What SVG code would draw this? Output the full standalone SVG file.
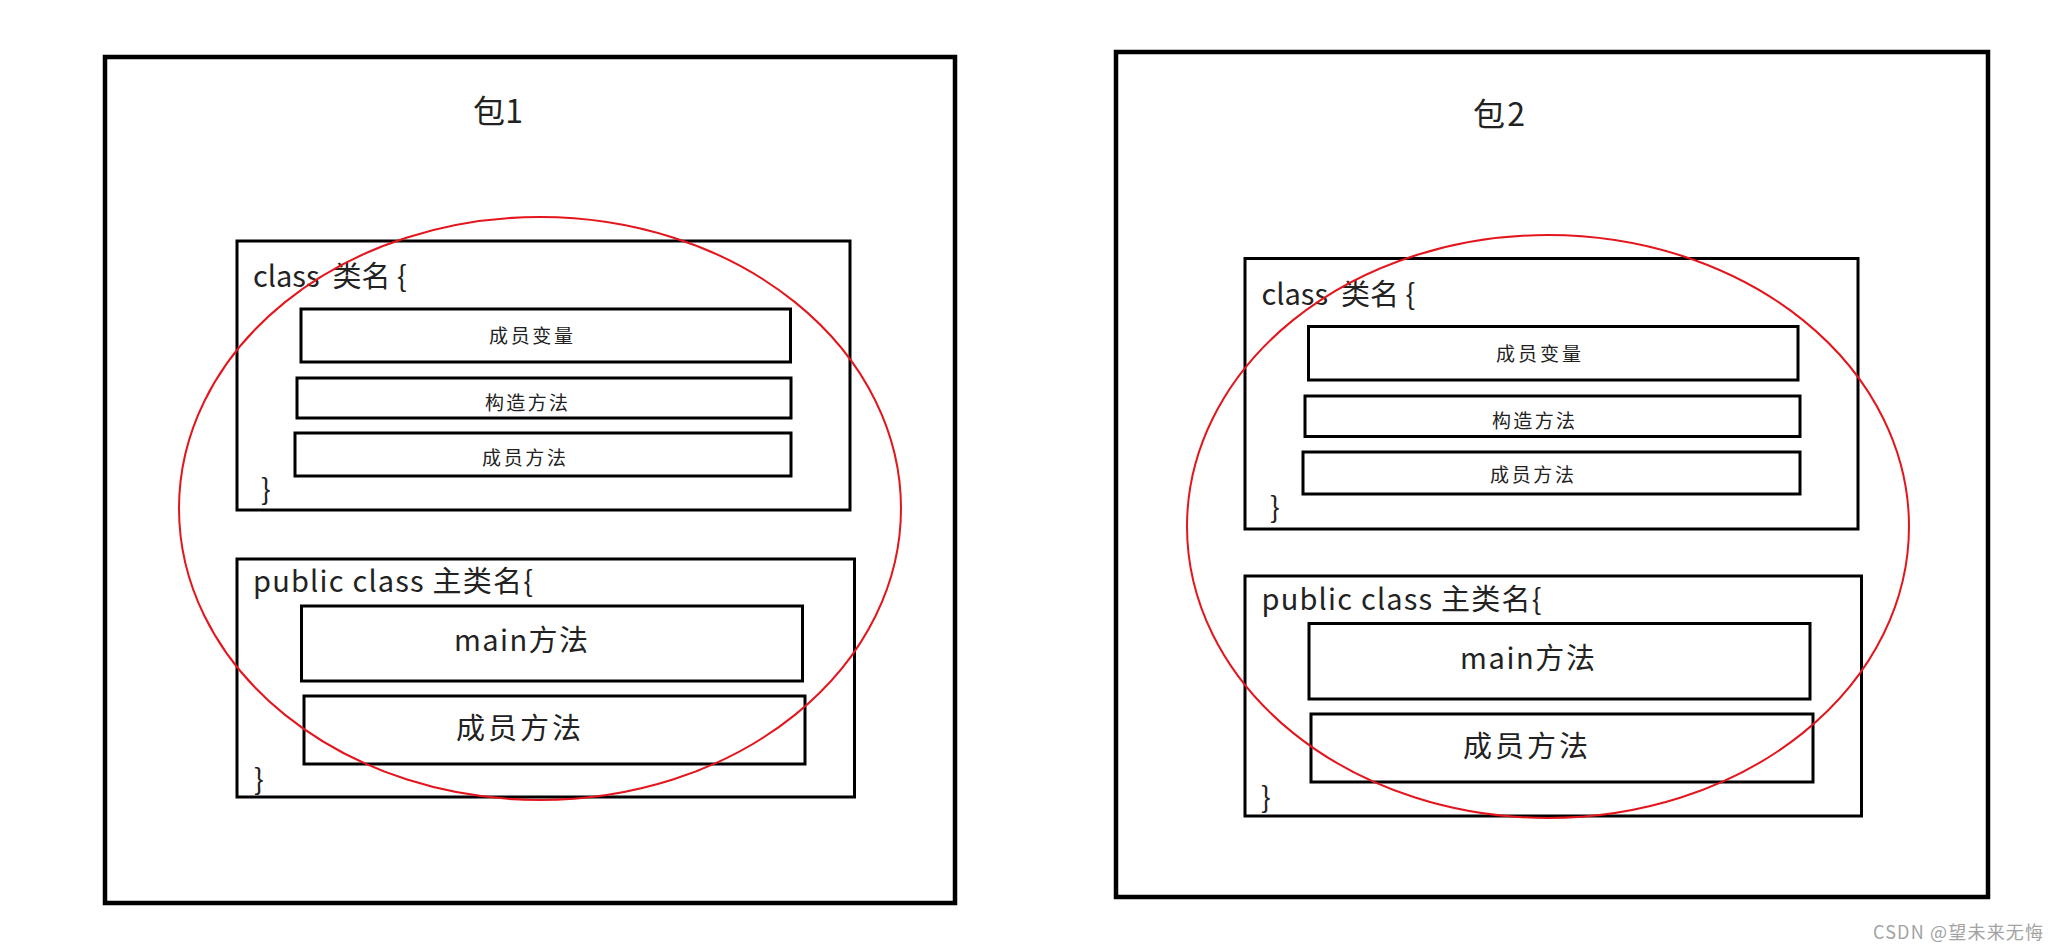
<svg xmlns="http://www.w3.org/2000/svg" width="2059" height="949" viewBox="0 0 2059 949">
<style>
.outer{fill:none;stroke:#000;stroke-width:4.5}
.box{fill:none;stroke:#000;stroke-width:3}
.ring{fill:none;stroke:#e3161d;stroke-width:2}
text{font-family:"Noto Sans CJK SC","Noto Sans",sans-serif;fill:#222}
.t32{font-size:32px}
.t30{font-size:29px}
.t20{font-size:19px}
.wm{font-size:18px;fill:#a3a3a3}
</style>
<rect width="2059" height="949" fill="#fff"/>
<g id="package1">
<rect class="outer" x="105" y="57" width="850" height="846"/>
<text class="t32" x="473" y="123" textLength="50">包1</text>
</g>
<g id="class1">
<rect class="box" x="237" y="241" width="613" height="269"/>
<text class="t30" x="253" y="287" xml:space="preserve">class  类名 {</text>
<text class="t30" x="261" y="500">}</text>
<rect class="box" x="301" y="309" width="489.5" height="53"/>
<text class="t20" x="489" y="343" textLength="84">成员变量</text>
<rect class="box" x="297" y="378" width="494" height="40"/>
<text class="t20" x="485" y="410" textLength="83">构造方法</text>
<rect class="box" x="295" y="433" width="496" height="43"/>
<text class="t20" x="482" y="465" textLength="84">成员方法</text>
</g>
<g id="main1">
<rect class="box" x="237" y="559" width="617.5" height="238"/>
<text class="t30" x="253" y="592" textLength="280">public class 主类名{</text>
<text class="t30" x="254" y="790">}</text>
<rect class="box" x="301.5" y="606" width="501" height="75"/>
<text class="t30" x="454" y="651" textLength="134">main方法</text>
<rect class="box" x="304" y="696" width="501" height="68"/>
<text class="t30" x="456" y="739" textLength="125">成员方法</text>
</g>
<g id="package2">
<rect class="outer" x="1116" y="52" width="872" height="845"/>
<text class="t32" x="1473" y="126" textLength="52">包2</text>
</g>
<g id="class2">
<rect class="box" x="1245" y="258.5" width="613" height="270.5"/>
<text class="t30" x="1261.5" y="305" xml:space="preserve">class  类名 {</text>
<text class="t30" x="1270" y="518">}</text>
<rect class="box" x="1308.5" y="326.5" width="489.5" height="53.5"/>
<text class="t20" x="1496" y="361" textLength="85">成员变量</text>
<rect class="box" x="1305" y="396" width="495" height="40.5"/>
<text class="t20" x="1492" y="428" textLength="83">构造方法</text>
<rect class="box" x="1303" y="452" width="497" height="42"/>
<text class="t20" x="1490" y="482" textLength="84">成员方法</text>
</g>
<g id="main2">
<rect class="box" x="1245" y="576" width="616.5" height="240"/>
<text class="t30" x="1261.5" y="610" textLength="280">public class 主类名{</text>
<text class="t30" x="1261" y="808">}</text>
<rect class="box" x="1309" y="623.5" width="501" height="75.5"/>
<text class="t30" x="1460" y="669" textLength="135">main方法</text>
<rect class="box" x="1311" y="714" width="502" height="68"/>
<text class="t30" x="1463" y="757" textLength="125">成员方法</text>
</g>
<g id="connectors">
<ellipse class="ring" cx="540" cy="508.5" rx="361" ry="291.5"/>
<ellipse class="ring" cx="1548" cy="526.5" rx="361" ry="291.5"/>
</g>
<text class="wm" x="1873" y="939" textLength="170">CSDN @望未来无悔</text>
</svg>
